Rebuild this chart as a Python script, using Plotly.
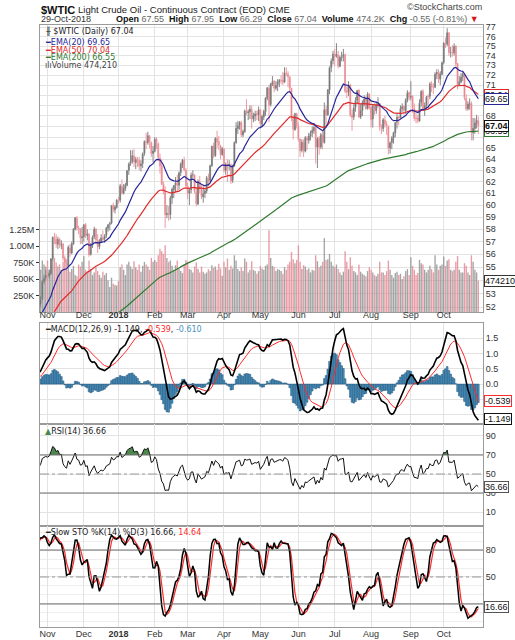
import numpy as np
import pandas as pd
import plotly.graph_objects as go

# trading days of $WTIC from 2-Oct-2017 to 29-Oct-2018 (exchange holidays removed)
holidays = ["2017-11-23", "2017-12-25", "2018-01-01", "2018-01-15", "2018-02-19",
            "2018-03-30", "2018-05-28", "2018-07-04", "2018-09-03"]
dates = pd.bdate_range("2017-10-02", "2018-10-29")
dates = dates[~dates.isin(pd.to_datetime(holidays))]

opens = [
    51.6, 50.6, 50.4, 50.0, 50.8, 49.3, 49.6, 50.9, 51.3, 50.6, 51.5, 51.9, 51.9, 52.0, 51.3, 51.8, 51.9, 52.5, 52.2, 52.6, 53.9, 54.2,
    54.4, 54.3, 54.5, 55.7, 57.4, 57.2, 56.8, 57.2, 56.7, 56.8, 55.7, 55.3, 55.1, 56.5, 56.1, 56.8, 58.0, 58.9, 58.1, 58.0, 57.3,
    57.4, 58.4, 57.5, 57.6, 56.0, 56.7, 57.4, 58.0, 57.1, 56.6, 57.0, 57.3, 57.2, 57.5, 58.1, 58.4, 58.5, 60.0, 59.6, 59.8,
    60.4, 60.4, 61.6, 61.0, 61.4, 61.7, 63.0, 63.6, 63.8, 64.3, 63.7, 64.0, 63.9, 63.4, 63.6, 64.5, 65.6, 65.5, 66.1, 65.5, 64.5,
    64.7, 65.8, 65.4, 64.1, 63.4, 61.8, 61.2, 59.2, 59.3, 59.2, 60.6, 61.3, 61.7, 61.9, 61.7, 62.8, 63.5, 63.9, 63.0,
    61.6, 61.0, 61.3, 62.6, 62.6, 61.1, 60.1, 62.0, 61.4, 60.7, 61.0, 61.2, 62.3, 62.1, 63.4, 65.2, 64.3, 65.9, 65.6, 65.2, 64.4,
    64.9, 63.0, 63.5, 63.4, 63.5, 62.1, 63.4, 65.5, 66.8, 67.1, 67.4, 66.2, 66.5, 68.5, 68.3, 68.4, 68.6, 67.7, 68.0, 68.2, 68.1,
    68.6, 67.2, 67.9, 68.4, 69.7, 70.7, 69.1, 71.1, 71.4, 70.7, 71.0, 71.3, 71.5, 71.5, 71.3, 72.2, 72.1, 71.8, 70.7, 67.9, 66.7, 68.2,
    67.0, 65.8, 64.8, 65.5, 64.7, 65.9, 65.7, 66.1, 66.4, 66.6, 66.9, 65.1, 65.9, 65.1, 66.2, 65.5, 68.6, 68.1, 70.5, 72.8, 73.5,
    74.2, 73.9, 74.1, 72.9, 73.8, 73.9, 74.1, 70.4, 70.3, 71.0, 68.1, 67.9, 68.8, 69.5, 70.5, 67.9, 68.5, 69.3, 69.6, 68.7, 70.1,
    68.8, 67.7, 69.0, 68.5, 69.0, 69.2, 66.9, 66.8, 67.6, 67.2, 67.0, 65.0, 65.5, 65.9, 66.4, 67.4, 67.9, 67.8, 68.7, 68.9, 68.5, 69.5, 70.3,
    69.8, 69.9, 68.7, 67.8, 67.8, 67.5, 69.3, 70.4, 68.6, 69.0, 69.9, 69.9, 71.1, 70.8, 70.8, 72.1, 72.3, 71.6, 72.1,
    73.3, 75.3, 75.2, 76.4, 74.3, 74.3, 74.3, 75.0, 73.2, 71.0, 71.3, 71.8, 72.1, 69.7, 68.7, 69.1, 69.2, 66.4, 66.8, 67.3, 67.55,
]
highs = [
    51.7, 50.9, 50.8, 51.0, 50.9, 49.9, 51.1, 51.6, 51.5, 51.6, 52.2, 52.0, 52.2, 52.1, 52.0, 52.1, 52.6, 52.6, 52.8, 54.0, 54.4, 54.8,
    55.2, 54.8, 55.7, 57.4, 57.7, 57.6, 57.4, 57.3, 57.1, 56.9, 55.9, 55.6, 56.7, 56.8, 57.0, 58.1, 59.0, 59.1, 58.3, 58.1, 58.2,
    58.4, 58.5, 58.0, 57.7, 56.9, 57.5, 58.2, 58.1, 57.6, 57.2, 57.6, 57.9, 57.6, 58.2, 58.4, 58.6, 60.0, 60.2, 60.0, 60.5,
    60.7, 61.8, 62.2, 61.8, 61.9, 63.0, 63.7, 64.8, 64.8, 64.9, 64.2, 64.2, 64.2, 63.9, 64.6, 65.7, 66.4, 66.5, 66.2, 65.6, 65.2,
    66.0, 66.0, 65.5, 64.5, 64.0, 62.0, 61.6, 60.0, 59.9, 60.8, 61.5, 61.7, 62.4, 62.6, 62.9, 63.7, 64.0, 64.2, 63.2,
    61.9, 61.4, 62.8, 63.0, 62.6, 61.5, 62.2, 62.5, 61.7, 61.6, 61.4, 62.5, 62.7, 63.5, 65.2, 65.5, 66.0, 66.6, 66.1, 65.3, 65.1,
    65.0, 63.7, 64.0, 63.9, 63.6, 63.5, 65.6, 67.4, 67.5, 67.5, 67.5, 66.7, 68.6, 69.6, 68.6, 69.0, 69.0, 68.3, 68.5, 68.5, 68.9,
    68.6, 68.1, 68.6, 69.8, 70.8, 71.0, 71.2, 71.9, 71.5, 71.4, 71.6, 71.6, 72.0, 72.3, 72.8, 72.8, 72.4, 71.9, 70.7, 68.1, 68.3, 68.3,
    67.4, 65.9, 65.8, 65.8, 66.1, 66.1, 66.4, 66.6, 67.0, 67.3, 66.9, 66.0, 66.1, 66.4, 66.5, 69.3, 69.0, 70.6, 72.9, 73.7, 74.5,
    74.7, 75.3, 74.5, 74.0, 74.4, 74.7, 74.2, 70.9, 71.4, 71.1, 68.6, 69.1, 69.8, 70.5, 70.6, 69.2, 69.5, 70.0, 69.9, 70.3, 70.2,
    69.0, 69.1, 69.2, 69.4, 69.8, 69.2, 67.2, 67.8, 68.0, 67.5, 67.1, 65.6, 66.1, 66.5, 67.4, 68.2, 68.0, 69.0, 69.2, 69.0, 69.7, 70.5, 70.3,
    71.4, 70.0, 69.2, 68.3, 68.1, 69.6, 70.5, 70.6, 69.3, 69.9, 70.1, 71.3, 71.4, 71.2, 72.3, 72.6, 72.6, 72.4, 73.4,
    75.4, 75.9, 76.9, 76.5, 74.9, 75.1, 75.3, 75.1, 73.2, 71.9, 72.2, 72.3, 72.2, 70.1, 69.4, 69.7, 69.4, 67.8, 67.8, 68.1, 67.95,
]
lows = [
    50.4, 50.0, 49.8, 49.9, 49.2, 49.1, 49.5, 50.7, 50.5, 50.6, 51.4, 51.5, 51.8, 51.0, 51.2, 51.6, 51.8, 51.7, 52.0, 52.5, 53.7, 54.0,
    54.2, 54.1, 54.4, 55.5, 56.8, 56.5, 56.4, 56.5, 56.4, 55.5, 54.9, 54.9, 55.1, 55.8, 56.0, 56.8, 57.9, 57.9, 57.6, 56.8, 56.8,
    57.0, 57.3, 57.1, 55.8, 55.9, 56.5, 57.2, 56.9, 56.1, 56.4, 56.9, 57.0, 56.9, 57.3, 57.8, 57.9, 58.4, 59.4, 59.3, 59.7,
    60.1, 60.2, 60.9, 60.9, 61.2, 61.6, 62.6, 63.4, 63.6, 63.3, 63.1, 63.3, 63.0, 62.9, 63.2, 64.3, 64.9, 65.3, 65.0, 64.2, 63.7,
    64.6, 64.9, 63.8, 62.7, 61.7, 60.9, 58.1, 58.9, 58.7, 58.8, 60.1, 60.6, 61.1, 61.1, 61.3, 62.5, 63.2, 62.9, 61.5,
    60.5, 60.0, 61.0, 62.3, 61.0, 59.9, 60.0, 61.0, 60.5, 60.2, 60.6, 61.0, 61.6, 61.9, 63.3, 64.1, 64.2, 65.0, 64.8, 64.0, 64.3,
    62.8, 62.6, 62.0, 63.0, 61.8, 61.9, 63.3, 65.4, 66.3, 66.7, 66.0, 66.0, 66.4, 68.1, 67.6, 67.7, 66.8, 67.4, 67.5, 67.6, 67.5,
    66.9, 66.9, 67.6, 68.0, 69.5, 67.4, 68.9, 70.9, 70.3, 70.5, 70.4, 70.8, 71.1, 71.0, 71.2, 71.9, 70.8, 70.3, 67.5, 65.8, 66.6, 66.8,
    65.6, 64.2, 64.6, 64.2, 64.6, 64.8, 65.4, 65.7, 66.0, 66.3, 63.6, 63.2, 64.4, 64.9, 64.9, 65.4, 67.1, 68.0, 70.1, 72.3, 73.1,
    72.9, 73.8, 72.7, 72.8, 73.4, 73.4, 70.2, 69.7, 69.9, 67.9, 66.6, 67.6, 68.4, 69.1, 67.8, 67.7, 68.0, 68.9, 68.6, 68.6, 68.6,
    66.9, 66.9, 68.1, 68.2, 68.8, 66.6, 66.3, 66.5, 66.9, 66.2, 64.4, 64.5, 64.9, 65.4, 66.0, 66.8, 67.1, 67.8, 68.4, 68.1, 68.2, 69.3, 69.5,
    69.5, 68.3, 67.5, 67.3, 67.3, 67.5, 68.9, 68.5, 68.0, 68.6, 68.8, 69.6, 70.3, 70.1, 70.7, 71.6, 71.2, 71.0, 72.0,
    73.1, 74.8, 75.0, 74.0, 73.8, 73.9, 74.0, 72.9, 70.6, 70.9, 71.2, 71.4, 69.5, 68.5, 68.5, 68.6, 65.7, 65.7, 66.3, 66.8, 66.29,
]
closes = [
    50.58, 50.42, 50.00, 50.79, 49.29, 49.58, 50.92, 51.30, 50.60, 51.45, 51.87, 51.88, 52.04, 51.29, 51.84, 51.90, 52.47, 52.18, 52.64, 53.90, 54.15, 54.38,
    54.30, 54.54, 55.64, 57.35, 57.20, 56.81, 57.17, 56.74, 56.76, 55.70, 55.33, 55.14, 56.55, 56.09, 56.83, 58.02, 58.95, 58.11, 57.99, 57.30, 57.40,
    58.36, 57.47, 57.62, 55.96, 56.69, 57.36, 57.99, 57.14, 56.60, 57.04, 57.30, 57.16, 57.46, 58.09, 58.36, 58.47, 59.97, 59.64, 59.84, 60.42,
    60.37, 61.63, 61.01, 61.44, 61.73, 62.96, 63.57, 63.80, 64.30, 63.73, 63.97, 63.95, 63.37, 63.57, 64.47, 65.61, 65.51, 66.14, 65.56, 64.50, 64.73,
    65.80, 65.45, 64.15, 63.39, 61.79, 61.15, 59.20, 59.29, 59.19, 60.60, 61.34, 61.68, 61.90, 61.68, 62.77, 63.55, 63.91, 63.01, 61.64,
    60.99, 61.25, 62.57, 62.60, 61.15, 60.12, 62.04, 61.36, 60.71, 60.96, 61.19, 62.34, 62.06, 63.40, 65.17, 64.30, 65.88, 65.55, 65.25, 64.38, 64.94,
    63.01, 63.51, 63.37, 63.54, 62.06, 63.42, 65.51, 66.82, 67.07, 67.39, 66.22, 66.52, 68.47, 68.29, 68.38, 68.64, 67.70, 68.05, 68.19, 68.10, 68.57,
    67.25, 67.93, 68.43, 69.72, 70.73, 69.06, 71.14, 71.36, 70.70, 70.96, 71.31, 71.49, 71.49, 71.28, 72.24, 72.13, 71.84, 70.71, 67.88, 66.73, 68.21, 67.04,
    65.81, 64.75, 65.52, 64.73, 65.95, 65.74, 66.10, 66.36, 66.64, 66.89, 65.06, 65.85, 65.07, 66.22, 65.54, 68.58, 68.08, 70.53, 72.76, 73.45, 74.15,
    73.94, 74.14, 72.94, 73.80, 73.85, 74.11, 70.38, 70.33, 71.01, 68.06, 67.86, 68.76, 69.46, 70.46, 67.89, 68.52, 69.30, 69.61, 68.69, 70.13, 68.76,
    67.66, 68.96, 68.49, 69.01, 69.17, 66.94, 66.81, 67.63, 67.20, 67.04, 65.01, 65.46, 65.91, 66.43, 67.35, 67.86, 67.83, 68.72, 68.87, 68.53, 69.51, 70.25, 69.80,
    69.87, 68.72, 67.77, 67.75, 67.54, 69.25, 70.37, 68.59, 68.99, 69.85, 69.85, 71.12, 70.80, 70.78, 72.08, 72.28, 71.57, 72.12, 73.25,
    75.30, 75.23, 76.41, 74.33, 74.34, 74.29, 74.96, 73.17, 70.97, 71.34, 71.78, 72.13, 69.75, 68.65, 69.12, 69.17, 66.43, 66.82, 67.33, 67.59, 67.04,
]
# volume in thousands, from 26-Oct-2017 (first day on screen)
volume_k = [
    640, 780, 720, 690,
    780, 640, 700, 860, 820, 750, 690, 720, 640, 760, 820, 700, 690, 610, 650, 700, 560, 540, 720, 690, 760,
    850, 640, 600, 780, 650, 560, 600, 680, 620, 560, 520, 610, 560, 590, 480, 380, 520, 430, 410, 400,
    470, 680, 720, 640, 560, 720, 760, 690, 650, 770, 680, 640, 720, 610, 700, 760, 720, 690, 640, 820, 760,
    790, 760, 860, 960, 920, 880, 1010, 820, 760, 780, 700, 640, 710, 780, 650, 620, 590, 720, 790,
    760, 650, 640, 600, 690, 750, 650, 600, 690, 610, 580, 600, 650, 620, 710, 670, 690, 640, 730, 660, 550,
    760, 680, 810, 640, 700, 660, 860, 780, 650, 620, 680, 620, 810, 760, 600, 640, 770, 640, 620, 580, 620,
    700, 660, 640, 700, 720, 1240, 820, 700, 680, 620, 650, 640, 620, 580, 680, 640, 720, 760, 910, 800, 740, 790,
    1010, 760, 650, 710, 690, 640, 660, 600, 640, 630, 860, 770, 680, 700, 760, 1120, 790, 800, 880, 760, 700,
    680, 720, 650, 600, 560, 610, 920, 760, 650, 830, 700, 620, 600, 560, 720, 610, 580, 560, 540, 620, 680,
    640, 600, 560, 540, 580, 760, 600, 600, 560, 620, 780, 640, 560, 520, 590, 610, 560, 580, 500, 540, 620, 650, 560,
    830, 700, 640, 560, 590, 790, 740, 720, 640, 600, 640, 700, 650, 600, 860, 720, 640, 700, 720,
    840, 700, 780, 800, 640, 620, 640, 760, 850, 640, 600, 600, 740, 700, 600, 560, 860, 760, 640, 600, 474.21,
]
month_labels = ["Nov", "Dec", "<b>2018</b>", "Feb", "Mar", "Apr", "May", "Jun", "Jul", "Aug", "Sep", "Oct"]
price_ticks = list(range(52, 78))
hidden_price_labels = [54, 66, 67, 69, 70]    # sit under the value tags on the right

# indicator state carried in from before 2-Oct-2017
ema_seed = {20: 49.9, 50: 49.1, 200: 47.7}
macd_seed = (50.5, 50.8, 0.8)      # EMA12, EMA26, signal
rsi_seed = (0.30, 0.22)            # avg gain, avg loss
prev_close = 51.67

assert len(opens) == len(highs) == len(lows) == len(closes) == len(dates), \
    (len(opens), len(highs), len(lows), len(closes), len(dates))

x = np.arange(len(closes))
c = np.array(closes)


def ema(vals, n, start):
    k = 2.0 / (n + 1)
    e = start
    out = []
    for v in vals:
        e += k * (v - e)
        out.append(e)
    return np.array(out)


ema20 = ema(c, 20, ema_seed[20])
ema50 = ema(c, 50, ema_seed[50])
ema200 = ema(c, 200, ema_seed[200])

macd = ema(c, 12, macd_seed[0]) - ema(c, 26, macd_seed[1])
signal = ema(macd, 9, macd_seed[2])
hist = macd - signal

ag, al = rsi_seed
rsi = []
p = prev_close
for v in c:
    ch = v - p
    ag = (ag * 13 + max(ch, 0)) / 14
    al = (al * 13 + max(-ch, 0)) / 14
    rsi.append(100 - 100 / (1 + ag / al))
    p = v
rsi = np.array(rsi)

hh = pd.Series(highs).rolling(14).max()
ll = pd.Series(lows).rolling(14).min()
fast_k = (pd.Series(c) - ll) / (hh - ll) * 100
slow_k = fast_k.rolling(3).mean()
slow_d = slow_k.rolling(3).mean()

# first trading day of each month -> vertical grid / labels
s = pd.Series(x, index=dates)
tickvals = s.groupby([dates.year, dates.month]).first().values[1:]

vx = x[-len(volume_k):]
vol = np.array(volume_k) * 1000
down = c[-len(volume_k):] < c[-len(volume_k) - 1:-1]
vol_colors = ["rgba(226,132,144,0.8)" if d else "rgba(142,142,142,0.8)" for d in down]

GRID = "#e3e3e3"
FRAME = "#9a9a9a"
TXT = "#333333"
LEG = "DejaVu Sans"


def py(ypx):
    return (627 - ypx) / 602


def pxx(xpx):
    return (xpx - 40) / 443


fig = go.Figure()

# volume behind the prices
fig.add_trace(go.Bar(x=vx, y=vol, marker=dict(color=vol_colors, line=dict(width=0)),
                     width=0.8, xaxis="x", yaxis="y", hoverinfo="skip"))
fig.add_trace(go.Scatter(x=x, y=ema200, mode="lines", line=dict(color="#2f7a2f", width=1.2),
                         xaxis="x", yaxis="y5"))
fig.add_trace(go.Scatter(x=x, y=ema50, mode="lines", line=dict(color="#e02a2a", width=1.2),
                         xaxis="x", yaxis="y5"))
fig.add_trace(go.Scatter(x=x, y=ema20, mode="lines", line=dict(color="#26269a", width=1.2),
                         xaxis="x", yaxis="y5"))
fig.add_trace(go.Candlestick(
    x=x, open=opens, high=highs, low=lows, close=closes, xaxis="x", yaxis="y5",
    increasing=dict(line=dict(color="#858585", width=1), fillcolor="#111111"),
    decreasing=dict(line=dict(color="#ee9aa2", width=1), fillcolor="#d41c1c"),
    whiskerwidth=0))

# MACD
fig.add_trace(go.Bar(x=x, y=hist, width=1.0, xaxis="x2", yaxis="y2",
                     marker=dict(color="#4a92c0", line=dict(color="#1d4f72", width=0.5))))
fig.add_trace(go.Scatter(x=x, y=signal, mode="lines", line=dict(color="#ff2a2a", width=1),
                         xaxis="x2", yaxis="y2"))
fig.add_trace(go.Scatter(x=x, y=macd, mode="lines", line=dict(color="#000000", width=1.6),
                         xaxis="x2", yaxis="y2"))

# RSI with overbought shading
fig.add_trace(go.Scatter(x=x, y=np.full(len(x), 70.0), mode="lines", line=dict(width=0),
                         xaxis="x3", yaxis="y3", hoverinfo="skip"))
fig.add_trace(go.Scatter(x=x, y=np.maximum(rsi, 70.0), mode="lines", line=dict(width=0),
                         fill="tonexty", fillcolor="#4e874e", xaxis="x3", yaxis="y3", hoverinfo="skip"))
fig.add_trace(go.Scatter(x=x, y=rsi, mode="lines", line=dict(color="#111111", width=1),
                         xaxis="x3", yaxis="y3"))

# Slow stochastic
fig.add_trace(go.Scatter(x=x, y=slow_d, mode="lines", line=dict(color="#ff2a2a", width=1.2),
                         xaxis="x4", yaxis="y4"))
fig.add_trace(go.Scatter(x=x, y=slow_k, mode="lines", line=dict(color="#000000", width=1.5),
                         xaxis="x4", yaxis="y4"))

xcommon = dict(range=[17.66, 273.7], tickvals=tickvals, ticktext=month_labels, showgrid=True,
               gridcolor=GRID, gridwidth=1, zeroline=False, showline=True, linecolor=FRAME,
               mirror=True, ticks="", tickfont=dict(size=9, color=TXT), automargin=False,
               ticklabelstandoff=-2)
ycommon = dict(side="right", showgrid=True, gridcolor=GRID, zeroline=False, showline=True,
               linecolor=FRAME, mirror=True, ticks="", tickfont=dict(size=9, color=TXT),
               automargin=False)

fig.update_layout(
    template="none",
    width=515, height=640,
    margin=dict(l=40, r=32, t=25, b=13),
    paper_bgcolor="white", plot_bgcolor="white",
    font=dict(family="Liberation Sans", size=9, color=TXT),
    showlegend=False, hovermode=False,
    xaxis=dict(xcommon, anchor="y", rangeslider=dict(visible=False), ticklabelstandoff=-6),
    xaxis2=dict(xcommon, anchor="y2", matches="x", showticklabels=False),
    xaxis3=dict(xcommon, anchor="y3", matches="x", showticklabels=False),
    xaxis4=dict(xcommon, anchor="y4", matches="x"),
    yaxis=dict(domain=[py(312), 1], side="left", range=[0, 4.35e6], showgrid=False,
               zeroline=False, showline=False,
               tickvals=[250000, 500000, 750000, 1000000, 1250000],
               ticktext=["250K", "500K", "750K", "1.00M", "1.25M"],
               ticks="outside", ticklen=3, tickcolor=TXT, tickfont=dict(size=9, color=TXT),
               automargin=False),
    yaxis5=dict(ycommon, overlaying="y", anchor="x", type="log",
                range=[np.log10(51.64), np.log10(77.25)], tickvals=price_ticks,
                ticktext=["" if t in hidden_price_labels else str(t) for t in price_ticks]),
    yaxis2=dict(ycommon, domain=[py(424), py(323)], anchor="x2", range=[-1.30, 1.99],
                tickvals=[-1.0, -0.5, 0.0, 0.5, 1.0, 1.5],
                ticktext=["", "", "0.0", "0.5", "1.0", "1.5"]),
    yaxis3=dict(ycommon, domain=[py(526), py(424)], anchor="x3", range=[-4.7, 102.6],
                tickvals=[10, 30, 50, 70, 90]),
    yaxis4=dict(ycommon, domain=[0, py(526)], anchor="x4", range=[-5.6, 106.7],
                tickvals=[20, 50, 80], ticktext=["", "50", "80"],
                minor=dict(dtick=10, tick0=0, showgrid=True, gridcolor="#eeeeee")),
)

shapes = []
for ax, lvls in (("3", (70, 30)), ("4", (80, 20))):
    for lv in lvls:
        shapes.append(dict(type="line", xref=f"x{ax} domain", x0=0, x1=1, yref=f"y{ax}", y0=lv, y1=lv,
                           line=dict(color="#6e6e6e", width=1)))
    shapes.append(dict(type="line", xref=f"x{ax} domain", x0=0, x1=1, yref=f"y{ax}", y0=50, y1=50,
                       line=dict(color="#9a9a9a", width=1, dash="dashdot")))
fig.update_layout(shapes=shapes)

ann = []


def text(xpx, ypx, t, size=8, color=TXT, family=LEG, anchor="left"):
    ann.append(dict(xref="paper", yref="paper", x=pxx(xpx), y=py(ypx), text=t, showarrow=False,
                    xanchor=anchor, yanchor="middle", font=dict(size=size, color=color, family=family)))


text(39, 10, "<b>$WTIC</b>", size=11, color="#111", family="Liberation Sans")
text(76, 10, "Light Crude Oil - Continuous Contract (EOD) CME", size=9.5, color="#222",
     family="Liberation Sans")
text(484, 7, "©StockCharts.com", size=9, color="#444", family="Liberation Sans", anchor="right")
text(39, 19, "29-Oct-2018", size=9, color="#333", family="Liberation Sans")
text(481, 19, "<b>Open</b> <span style='color:#666'>67.55</span>  <b>High</b> "
     "<span style='color:#666'>67.95</span>  <b>Low</b> <span style='color:#666'>66.29</span>  "
     "<b>Close</b> <span style='color:#666'>67.04</span>  <b>Volume</b> "
     "<span style='color:#666'>474.2K</span>  <b>Chg</b> <span style='color:#666'>-0.55 (-0.81%)</span> "
     "<span style='color:#d01818'>▼</span>", size=9, color="#111", family="Liberation Sans", anchor="right")

text(43, 31, "╫ $WTIC (Daily) 67.04", color="#222")
text(43, 42, "<b>━</b>EMA(20) 69.65", color="#26269a")
text(43, 50, "<b>━</b>EMA(50) 70.04", color="#e02a2a")
text(43, 58, "<b>━</b>EMA(200) 66.55", color="#2f7a2f")
text(43, 66, "ılıVolume 474,210", color="#444")
text(43, 329, "<b>━</b>MACD(12,26,9) -1.149, <span style='color:#ff2a2a'>-0.539</span>, "
     "<span style='color:#4a92c0'>-0.610</span>", color="#222")
text(43, 431, "<span style='color:#4e874e'>▲</span>RSI(14) 36.66", color="#222")
text(43, 532, "<b>━</b>Slow STO %K(14) %D(3) 16.66, <span style='color:#ff2a2a'>14.64</span>",
     color="#222")


def badge(t, yref, yv, color, bold=False):
    ann.append(dict(xref="paper", x=1.002, xanchor="left", yref=yref, y=yv, yanchor="middle",
                    text=f"<b>{t}</b>" if bold else t, showarrow=False, bgcolor="white",
                    bordercolor=color, borderwidth=1, borderpad=0,
                    font=dict(size=9, color="#111", family="Liberation Sans")))


badge("70.04", "y5", np.log10(70.04), "#e02a2a")
badge("69.65", "y5", np.log10(69.65), "#26269a")
badge("66.55", "y5", np.log10(66.55), "#2f7a2f")
badge("67.04", "y5", np.log10(67.04), "#111", bold=True)
badge("474210", "y", 474210, "#333")
badge("-0.539", "y2", -0.539, "#ff2a2a")
badge("-1.149", "y2", -1.149, "#111")
badge("36.66", "y3", 36.66, "#555")
badge("16.66", "y4", 16.66, "#555")

fig.update_layout(annotations=ann)
# page has a default 8px body margin; remove it so the figure sits at the window corner
fig.write_html("out.html", config={"displayModeBar": False},
               post_script="document.body.style.margin='0px';")
